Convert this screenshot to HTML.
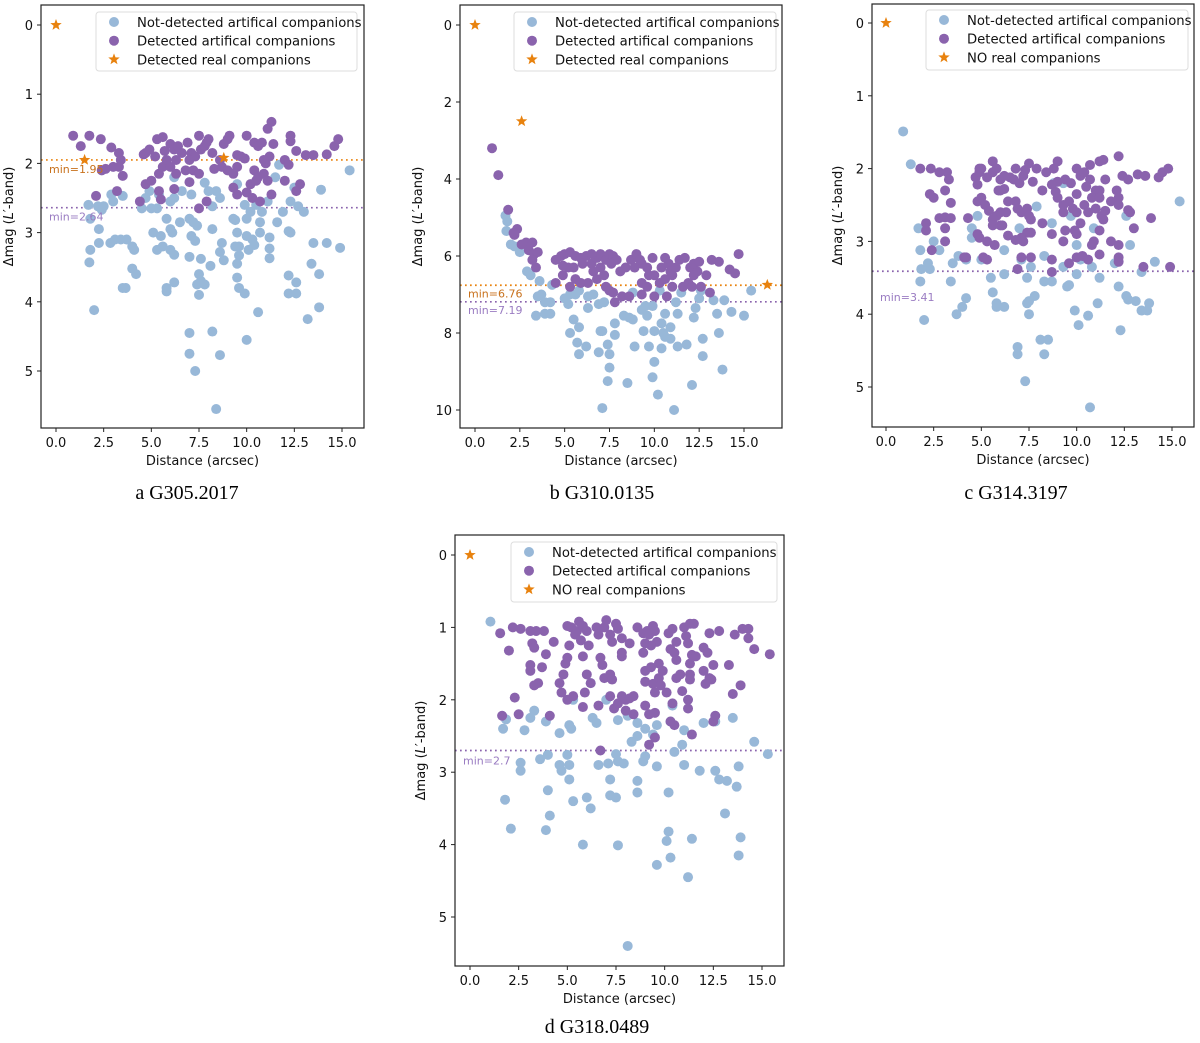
<!DOCTYPE html>
<html><head><meta charset="utf-8">
<style>
body{margin:0;background:#fff;}
svg{display:block;font-family:"DejaVu Sans","Liberation Sans",sans-serif;}
.cap{font-family:"Liberation Serif",serif;font-size:20px;fill:#000;}
</style></head>
<body>
<svg id="fig" width="1200" height="1043" viewBox="0 0 1200 1043" xmlns="http://www.w3.org/2000/svg">
<text class="cap" x="187" y="499" text-anchor="middle">a G305.2017</text>
<text class="cap" x="602" y="499" text-anchor="middle">b G310.0135</text>
<text class="cap" x="1016" y="499" text-anchor="middle">c G314.3197</text>
<text class="cap" x="597" y="1033" text-anchor="middle">d G318.0489</text>
</svg>
<script>
// ---------- Panel a data ----------
const aND=[[1.7,2.6],[1.8,2.8],[1.75,3.43],[1.8,3.25],[2.0,4.12],[2.2,2.62],[2.25,2.95],[2.25,3.15],[2.5,2.62],[2.4,2.67],[2.9,2.45],[3.0,2.55],[2.85,3.15],[3.1,3.1],[3.5,2.47],[3.4,3.1],[3.5,3.8],[3.65,3.8],[3.7,3.1],[4.0,3.2],[4.1,3.25],[4.0,3.52],[4.2,3.6],[4.5,2.65],[4.7,2.5],[4.9,2.4],[5.0,2.65],[5.1,3.0],[5.3,2.65],[5.3,3.25],[5.5,3.05],[5.6,3.2],[5.8,2.8],[6.0,2.95],[6.0,3.25],[5.8,3.85],[5.8,3.8],[6.1,3.0],[6.2,2.5],[6.2,3.32],[6.2,3.72],[6.5,2.85],[6.2,2.2],[7.0,2.8],[7.0,3.35],[7.1,3.05],[7.2,2.85],[7.3,3.12],[7.4,2.9],[7.6,3.38],[7.4,3.75],[7.5,3.6],[7.6,3.7],[7.5,3.9],[7.8,3.75],[7.1,2.45],[7.8,2.28],[8.0,2.4],[8.2,2.62],[8.2,2.95],[8.1,3.48],[8.4,2.4],[8.6,2.5],[8.7,3.15],[8.6,3.28],[8.8,3.4],[9.3,2.8],[9.4,2.82],[9.4,3.2],[9.5,3.0],[9.6,3.2],[9.6,3.33],[9.5,3.45],[9.5,3.65],[9.6,3.8],[9.9,3.88],[9.5,2.3],[9.9,2.6],[10.0,2.8],[10.0,3.05],[10.1,3.25],[10.3,3.1],[10.4,3.18],[10.7,3.0],[10.7,2.85],[10.2,2.7],[10.5,2.6],[10.8,2.7],[10.6,4.15],[11.2,3.07],[11.2,3.23],[11.2,3.37],[11.1,2.55],[11.5,2.2],[11.6,2.85],[11.9,2.7],[11.7,2.02],[12.2,2.98],[12.3,3.0],[12.2,3.62],[12.2,3.88],[12.6,3.88],[12.6,3.72],[12.3,2.55],[12.7,2.62],[13.0,2.7],[12.5,2.35],[13.4,3.45],[13.5,3.15],[13.8,3.6],[13.8,4.08],[13.2,4.25],[14.2,3.15],[13.9,2.38],[14.9,3.22],[15.4,2.1],[7.0,4.45],[7.0,4.75],[7.3,5.0],[8.2,4.43],[8.6,4.77],[10.0,4.55],[8.4,5.55],[6.0,2.55],[6.6,2.4],[5.4,2.45]];
const aD=[[0.9,1.6],[1.3,1.75],[1.75,1.6],[2.35,1.65],[2.9,1.77],[3.3,1.85],[3.4,1.95],[3.5,2.18],[2.4,2.1],[2.6,2.08],[3.0,2.05],[3.3,2.05],[2.1,2.47],[3.2,2.4],[4.4,2.55],[4.6,1.87],[4.7,1.85],[4.9,1.8],[5.2,1.9],[5.3,1.65],[5.6,1.62],[5.7,1.82],[6.0,1.72],[6.2,1.8],[6.4,1.75],[6.6,1.85],[6.9,1.7],[7.1,1.85],[7.3,1.9],[7.5,1.6],[7.6,1.8],[7.8,1.75],[8.0,1.65],[7.9,1.7],[8.2,1.85],[8.8,1.72],[9.0,1.65],[9.1,1.6],[9.5,1.88],[10.0,1.6],[10.4,1.7],[10.6,1.75],[10.8,1.7],[11.1,1.5],[11.3,1.4],[11.4,1.72],[11.2,1.9],[12.0,1.95],[12.3,1.6],[12.3,1.68],[12.6,1.82],[13.1,1.88],[13.5,1.88],[14.2,1.87],[14.6,1.75],[14.8,1.65],[5.4,2.15],[5.6,2.05],[6.0,2.05],[6.3,2.15],[6.8,2.1],[7.0,2.27],[7.2,2.1],[7.5,2.15],[8.3,2.08],[8.7,2.05],[9.0,2.1],[9.3,2.15],[9.5,2.05],[9.9,1.93],[10.4,2.1],[10.6,2.2],[10.9,2.15],[11.1,2.25],[12.0,2.25],[12.2,2.02],[12.8,2.3],[12.6,2.4],[4.7,2.3],[5.0,2.25],[5.4,2.4],[5.5,2.52],[6.2,2.37],[7.9,2.55],[7.5,2.65],[9.5,2.45],[10.0,2.42],[10.3,2.5],[10.7,2.55],[11.3,2.45],[9.3,2.35],[10.2,2.3],[10.5,2.25],[11.0,2.0],[10.9,1.95],[5.8,1.95],[6.3,1.95],[7.0,1.95],[8.6,1.95],[9.7,1.9]];
const aStar=[[0,0],[1.5,1.95],[8.8,1.92]];
const aMin=[1.95,2.64];
// ---------- Panel b data ----------
const bND=[[1.7,4.95],[1.8,5.1],[1.75,5.35],[2.0,5.7],[2.2,5.75],[2.5,5.9],[2.9,6.4],[3.1,6.5],[3.6,6.65],[3.7,7.0],[3.5,7.05],[3.9,7.2],[3.4,7.55],[3.9,7.5],[4.2,7.5],[4.2,7.2],[4.3,6.75],[5.0,7.1],[5.2,7.25],[5.3,7.0],[5.6,7.0],[5.8,6.9],[5.5,7.65],[5.8,7.85],[5.3,8.0],[5.7,8.25],[6.2,8.35],[5.8,8.55],[6.3,7.35],[6.3,7.05],[6.6,7.0],[6.9,7.25],[7.2,7.2],[7.1,7.95],[7.0,7.95],[7.4,8.3],[6.9,8.5],[7.5,8.55],[7.5,8.9],[7.4,9.25],[7.1,9.95],[7.8,7.75],[7.8,8.05],[8.3,7.55],[8.6,7.6],[8.8,7.65],[8.9,8.35],[8.5,9.3],[8.8,6.95],[9.3,7.4],[9.5,7.3],[9.6,7.55],[9.4,7.95],[9.7,8.35],[9.9,7.3],[10.0,7.95],[10.0,8.75],[9.9,9.15],[10.2,9.6],[10.4,7.75],[10.6,7.5],[10.5,8.0],[10.6,8.1],[10.4,8.4],[10.9,7.85],[10.9,8.15],[11.2,7.2],[11.3,7.5],[11.3,8.35],[11.1,10.0],[11.8,8.3],[12.2,7.6],[12.3,7.35],[12.5,7.1],[12.7,8.15],[12.7,8.6],[12.1,9.35],[13.3,7.15],[13.5,7.5],[13.6,8.0],[13.8,8.95],[13.9,7.15],[14.3,7.45],[15.0,7.55],[15.4,6.9],[11.5,6.95],[10.3,6.9],[12.6,6.9]];
const bD=[[0.95,3.2],[1.3,3.9],[1.85,4.8],[2.2,5.45],[2.35,5.3],[2.15,5.4],[2.6,5.7],[2.85,5.65],[3.2,5.65],[3.0,5.85],[3.3,5.95],[3.5,5.9],[3.2,6.1],[3.4,6.3],[4.5,6.1],[4.8,6.0],[5.0,5.95],[5.3,5.9],[5.6,6.0],[5.9,6.05],[6.2,6.0],[6.5,6.2],[6.8,6.05],[7.0,5.95],[7.3,6.1],[7.5,5.95],[7.7,6.0],[7.9,6.1],[8.1,6.4],[8.4,6.3],[8.7,6.1],[9.0,5.95],[9.3,6.2],[9.6,6.3],[9.9,6.05],[10.4,6.3],[10.6,6.05],[10.8,6.2],[11.0,6.5],[11.4,6.1],[11.7,6.05],[12.0,6.3],[12.2,6.2],[12.5,6.15],[12.4,6.4],[13.2,6.1],[13.6,6.15],[14.2,6.35],[14.5,6.45],[14.7,5.95],[12.9,6.5],[12.6,6.8],[13.1,6.95],[4.5,6.7],[4.9,6.5],[5.2,6.3],[5.6,6.6],[5.9,6.7],[6.3,6.7],[5.3,6.8],[6.6,6.4],[6.8,6.6],[7.2,6.5],[7.3,6.8],[7.5,6.9],[7.8,7.2],[7.7,6.95],[8.2,7.05],[8.6,7.05],[9.3,6.7],[9.6,6.8],[9.3,7.0],[10.0,7.05],[10.7,7.05],[10.0,6.5],[10.3,6.7],[10.6,6.6],[11.0,6.8],[11.6,6.8],[11.9,6.7],[12.2,6.5],[10.9,6.4],[9.7,6.5],[8.9,6.3],[7.0,6.3],[7.6,6.2],[6.0,6.2],[5.5,6.3],[4.9,6.25],[11.2,6.3],[12.1,6.8],[9.2,6.1],[6.5,5.95]];
const bStar=[[0,0],[2.6,2.5],[16.3,6.75]];
const bMin=[6.76,7.19];
// ---------- Panel c data ----------
const cND=[[0.9,1.49],[1.3,1.94],[1.7,2.82],[1.8,3.12],[1.8,3.55],[1.85,3.38],[2.0,4.08],[2.2,3.3],[2.3,3.38],[2.5,3.0],[2.8,3.12],[3.5,3.3],[3.4,3.55],[3.7,4.0],[3.8,3.2],[4.0,3.9],[4.2,3.78],[4.2,3.25],[4.5,2.82],[4.5,2.95],[4.8,2.65],[5.0,3.25],[5.5,3.5],[5.6,3.7],[5.8,3.85],[5.8,3.9],[6.2,3.9],[6.2,3.45],[6.2,3.12],[7.0,2.82],[7.1,3.25],[7.4,3.5],[7.4,3.85],[7.5,3.82],[7.5,4.0],[7.6,3.35],[7.8,3.75],[7.9,2.52],[8.3,3.2],[8.3,3.55],[8.1,4.35],[8.5,4.35],[8.3,4.55],[8.7,3.55],[8.7,2.75],[6.9,4.45],[6.9,4.55],[7.3,4.92],[9.3,3.35],[9.5,3.62],[9.6,3.6],[9.7,2.65],[10.0,3.45],[10.0,3.05],[10.2,3.25],[9.9,3.95],[10.1,4.15],[10.6,4.02],[10.8,3.35],[11.2,3.5],[11.1,3.85],[10.9,2.82],[10.7,5.28],[12.0,3.3],[12.2,3.62],[12.3,4.22],[12.6,3.75],[12.7,3.8],[12.6,2.65],[12.8,3.05],[13.1,3.82],[13.4,3.95],[13.4,3.42],[13.7,3.95],[13.8,3.85],[14.1,3.28],[15.4,2.45],[8.8,2.2],[9.3,2.2]];
const cD=[[1.8,2.0],[2.35,2.0],[2.8,2.05],[3.2,2.05],[3.3,2.15],[3.1,2.3],[2.3,2.35],[2.5,2.4],[3.4,2.47],[2.1,2.75],[2.1,2.85],[2.8,2.68],[3.1,2.67],[3.4,2.68],[3.1,2.82],[3.1,3.0],[2.4,3.12],[4.2,3.22],[4.3,2.68],[4.7,2.12],[4.8,2.22],[4.9,2.05],[5.0,2.0],[5.3,2.12],[5.6,1.9],[5.6,2.05],[5.8,2.0],[6.0,2.15],[6.2,2.1],[6.5,2.12],[6.7,2.15],[6.8,2.0],[7.0,2.2],[7.2,2.1],[7.3,2.02],[7.5,1.93],[7.7,2.18],[7.9,2.0],[8.4,2.05],[8.8,2.0],[9.0,1.9],[9.0,2.18],[9.4,2.15],[9.7,2.2],[10.0,2.0],[10.2,2.1],[10.4,2.05],[10.7,1.95],[10.7,2.15],[11.2,1.9],[11.4,1.88],[11.5,2.15],[11.0,2.3],[12.2,1.83],[12.4,2.1],[12.7,2.15],[13.2,2.08],[13.6,2.1],[14.3,2.12],[14.5,2.05],[14.8,2.0],[4.8,2.45],[5.0,2.4],[5.2,2.5],[5.4,2.58],[5.6,2.7],[5.6,2.78],[5.8,2.65],[5.9,2.3],[6.2,2.28],[6.0,2.3],[6.0,2.6],[6.3,2.6],[6.0,2.78],[6.4,2.45],[6.8,2.45],[6.9,2.55],[7.1,2.6],[7.4,2.55],[7.6,2.7],[7.4,2.88],[7.5,2.65],[7.1,2.95],[7.2,3.0],[7.6,2.88],[8.2,2.3],[8.2,2.75],[8.7,2.22],[8.9,2.32],[9.0,2.4],[9.3,2.5],[9.3,2.6],[9.6,2.45],[9.8,2.55],[10.0,2.35],[10.0,2.6],[10.2,2.75],[10.4,2.5],[10.6,2.6],[10.8,2.4],[11.0,2.55],[11.2,2.3],[11.3,2.65],[11.4,2.7],[11.5,2.58],[11.8,2.45],[12.1,2.3],[12.2,2.4],[12.2,2.5],[12.8,2.6],[12.7,2.57],[13.0,2.82],[13.9,2.68],[4.9,2.95],[4.8,2.9],[5.1,3.22],[5.3,3.25],[5.3,3.0],[5.7,3.05],[6.1,2.78],[6.4,2.92],[6.8,2.98],[7.1,3.22],[7.6,3.22],[8.7,2.9],[8.7,3.25],[9.3,3.0],[9.4,2.85],[9.6,3.3],[10.0,3.22],[10.0,2.9],[10.3,3.2],[10.6,3.25],[10.9,3.0],[10.8,3.05],[11.2,3.18],[11.2,2.85],[11.8,3.0],[12.2,3.05],[12.2,3.22],[12.2,3.28],[6.9,3.38],[8.7,3.42],[13.5,3.35],[14.9,3.35],[4.1,3.22],[4.9,2.0],[9.9,2.85],[10.5,2.25],[11.2,2.4]];
const cStar=[[0,0]];
const cMin=[3.41];
// ---------- Panel d data ----------
const dND=[[1.05,0.92],[1.7,2.4],[1.85,2.27],[1.8,3.38],[2.1,3.78],[2.6,2.87],[2.6,2.98],[2.8,2.42],[3.1,2.25],[3.3,2.15],[3.9,2.3],[3.6,2.82],[4.0,2.76],[4.0,3.25],[4.1,3.6],[3.9,3.8],[4.6,2.46],[4.6,2.9],[4.7,2.98],[5.0,2.76],[5.1,2.35],[5.2,2.4],[5.1,2.9],[5.1,3.1],[5.3,3.4],[5.3,2.0],[5.8,4.0],[6.0,3.35],[6.2,3.5],[6.2,1.77],[6.3,2.25],[6.5,2.32],[6.6,2.9],[7.0,2.0],[7.1,2.88],[7.2,3.1],[7.2,3.32],[7.5,3.35],[7.5,2.75],[7.6,2.28],[7.6,2.85],[7.9,2.88],[7.6,4.01],[8.1,2.22],[8.3,2.58],[8.6,2.32],[8.6,2.5],[8.9,2.85],[9.0,2.78],[9.0,2.4],[8.6,3.12],[8.6,3.28],[9.4,2.48],[9.6,2.35],[9.6,2.92],[9.6,4.28],[10.3,2.3],[10.2,3.28],[10.2,3.82],[10.1,3.95],[10.3,4.18],[10.4,2.08],[10.5,2.72],[10.9,2.62],[11.0,2.42],[11.0,2.9],[11.4,3.92],[11.2,4.45],[11.8,2.98],[12.0,2.32],[12.6,2.3],[12.6,2.98],[12.8,3.1],[13.2,3.12],[13.1,3.57],[13.5,2.25],[13.7,3.2],[13.8,2.92],[13.8,4.15],[13.9,3.9],[14.6,2.58],[15.3,2.75],[8.1,5.4]];
const dD=[[1.55,1.08],[1.65,2.22],[2.0,1.32],[2.2,1.0],[2.6,1.02],[2.3,1.97],[2.5,2.2],[3.1,1.05],[3.4,1.05],[3.2,1.22],[3.3,1.28],[3.8,1.05],[3.9,1.37],[4.3,1.2],[3.1,1.52],[3.1,1.6],[3.7,1.55],[3.3,1.8],[3.5,1.77],[4.1,2.22],[4.6,1.77],[4.7,1.9],[4.8,1.65],[4.9,1.5],[5.0,1.42],[5.0,2.0],[5.1,1.25],[5.0,0.98],[5.2,1.0],[5.4,1.1],[5.5,1.05],[5.6,0.92],[5.7,1.18],[5.8,1.4],[5.8,0.98],[6.0,1.05],[6.1,1.25],[6.0,1.65],[6.2,1.77],[5.8,2.1],[5.9,1.9],[5.3,1.95],[6.5,1.0],[6.6,1.1],[6.7,1.42],[6.8,1.52],[6.9,1.7],[6.9,1.0],[7.0,0.9],[7.2,1.1],[7.3,1.2],[7.2,1.65],[7.3,1.72],[7.4,2.12],[7.2,1.95],[7.5,0.95],[7.6,1.02],[7.8,1.15],[7.8,1.4],[7.8,1.35],[7.6,2.05],[7.8,1.95],[8.0,2.0],[8.0,2.15],[8.2,1.22],[8.2,1.98],[8.4,2.2],[8.6,1.0],[8.9,1.35],[8.9,1.08],[9.1,1.05],[9.0,1.22],[9.2,1.1],[9.4,0.98],[9.5,1.05],[9.6,1.2],[9.0,1.75],[9.0,1.6],[9.3,1.55],[9.4,1.78],[9.5,1.9],[9.2,2.2],[9.0,2.08],[9.5,2.18],[9.7,1.5],[9.7,1.7],[9.8,1.8],[9.9,1.6],[10.1,1.9],[10.2,1.08],[10.4,1.02],[10.3,1.3],[10.5,1.35],[10.6,1.2],[10.6,1.7],[10.8,1.65],[10.9,1.88],[10.4,2.05],[10.3,2.3],[10.5,2.35],[11.0,1.0],[11.1,1.12],[11.3,0.95],[11.5,0.95],[11.2,1.22],[11.4,1.38],[11.3,1.5],[11.6,1.4],[11.3,1.65],[11.3,1.72],[11.2,2.0],[11.2,2.12],[11.4,2.48],[12.0,1.6],[12.0,1.28],[12.2,1.35],[12.4,1.72],[12.1,1.78],[12.3,1.7],[12.5,1.52],[12.3,1.08],[12.8,1.05],[13.3,1.52],[13.5,1.92],[13.6,1.1],[14.0,1.02],[14.3,1.02],[14.3,1.15],[14.6,1.3],[13.9,1.8],[15.4,1.37],[12.5,2.3],[12.6,2.22],[9.2,2.62],[9.5,2.52],[6.7,2.7],[8.4,1.95],[9.3,1.25],[10.6,1.45],[6.6,2.08]];
const dStar=[[0,0]];
const dMin=[2.7];
// tick labels
const xTicks=[0,2.5,5,7.5,10,12.5,15];
const xTickLabels=["0.0","2.5","5.0","7.5","10.0","12.5","15.0"];
const yTicksA=[0,1,2,3,4,5];
const yTicksB=[0,2,4,6,8,10];
const starLabelA="Detected real companions";
const starLabelC="NO real companions";

const NS="http://www.w3.org/2000/svg";
const svg=document.getElementById('fig');
const C_ND="#98b8d8",C_D="#8a63ad",C_S="#e8820e";
const MR=5;
function mk(tag,attrs,parent){const e=document.createElementNS(NS,tag);for(const k in attrs)e.setAttribute(k,attrs[k]);(parent||svg).appendChild(e);return e;}
function star(g,cx,cy,r,fill){let p=[];for(let i=0;i<10;i++){const a=-Math.PI/2+i*Math.PI/5;const rr=i%2?r*0.42:r;p.push((cx+rr*Math.cos(a)).toFixed(1)+","+(cy+rr*Math.sin(a)).toFixed(1));}return mk('polygon',{points:p.join(' '),fill:fill},g);}

function panel(id,box,x0,x15,y0,yk,yTicks,nd,det,stars,mins,minCols,legendBox,starLabel,ylabX,labelOffsets){
  const g=mk('g',{});
  
  
  const X=v=>x0+(x15-x0)*v/15;
  const Y=v=>y0+yk*v;
  const [L,T,R,B]=box;
  const clipId='clip'+id;
  const cp=mk('clipPath',{id:clipId},g);mk('rect',{x:L,y:T,width:R-L,height:B-T},cp);
  const pg=mk('g',{'clip-path':'url(#'+clipId+')'},g);
  mins.forEach((m,i)=>{
    const ln=mk('line',{x1:L,x2:R,y1:Y(m),y2:Y(m),stroke:minCols[i],'stroke-width':1.7,'stroke-dasharray':'1.7,3.3'},pg);
    
    
    const t=mk('text',{x:L+8,y:Y(m)+labelOffsets[i],'font-size':11,fill:minCols[i]==="#e8820e"?"#c8711c":"#9a7cc2"},g);
    t.textContent='min='+m;
    
    
  });
  nd.forEach(p=>{const c=mk('circle',{cx:X(p[0]),cy:Y(p[1]),r:MR,fill:C_ND},pg);
    
    });
  det.forEach(p=>{const c=mk('circle',{cx:X(p[0]),cy:Y(p[1]),r:MR,fill:C_D},pg);
    
    });
  stars.forEach(p=>{const s=star(pg,X(p[0]),Y(p[1]),6,C_S);
    
    });
  const fr=mk('rect',{x:L,y:T,width:R-L,height:B-T,fill:'none',stroke:'#222','stroke-width':1.2},g);
  
  
  xTicks.forEach((v,i)=>{mk('line',{x1:X(v),x2:X(v),y1:B,y2:B+4,stroke:'#222'},g);
    const t=mk('text',{x:X(v),y:B+19,'font-size':13,'text-anchor':'middle',fill:'#111'},g);t.textContent=xTickLabels[i];
    
    });
  yTicks.forEach(v=>{mk('line',{x1:L-4,x2:L,y1:Y(v),y2:Y(v),stroke:'#222'},g);
    const t=mk('text',{x:L-8,y:Y(v)+5,'font-size':13,'text-anchor':'end',fill:'#111'},g);t.textContent=String(v);
    
    });
  const xl=mk('text',{x:(L+R)/2,y:B+37,'font-size':13,'text-anchor':'middle',fill:'#111'},g);
  xl.textContent='Distance (arcsec)';
  
  
  const cy=(T+B)/2;
  const yl=mk('text',{x:ylabX,y:cy,'font-size':13,'text-anchor':'middle',fill:'#111',transform:'rotate(-90 '+ylabX+' '+cy+')'},g);
  yl.innerHTML='Δmag (<tspan font-style="italic">L</tspan>′-band)';
  
  
  const [lx,ly,lw,lh]=legendBox;
  const lg=mk('g',{},g);
  
  
  mk('rect',{x:lx,y:ly,width:lw,height:lh,rx:3,fill:'#fff','fill-opacity':0.85,stroke:'#ddd'},lg);
  const labels=['Not-detected artifical companions','Detected artifical companions',starLabel];
  labels.forEach((s,i)=>{const yy=ly+10+i*18.7;
    if(i<2) mk('circle',{cx:lx+18,cy:yy,r:MR,fill:i?C_D:C_ND},lg); else star(lg,lx+18,yy,6,C_S);
    const t=mk('text',{x:lx+41,y:yy+5,'font-size':13.2,fill:'#111'},lg);t.textContent=s;
    
    });
}
panel('a',[41,5,364,428],56,342,25,69.2,yTicksA,aND,aD,aStar,aMin,[C_S,"#8a63ad"],[96,12,261,59],starLabelA,13,[13,13]);
panel('b',[460,5,782,428],475,744,25,38.5,yTicksB,bND,bD,bStar,bMin,[C_S,"#8a63ad"],[514,12,262,59],starLabelA,422,[12,12]);
panel('c',[872,4,1194,427],886,1172,23,72.8,yTicksA,cND,cD,cStar,cMin,["#8a63ad"],[926,10,262,60],starLabelC,842,[30]);
panel('d',[455,535,784,966],470,762,555,72.4,yTicksA,dND,dD,dStar,dMin,["#8a63ad"],[511,542,266,60],starLabelC,425,[14]);
</script>
</body></html>
